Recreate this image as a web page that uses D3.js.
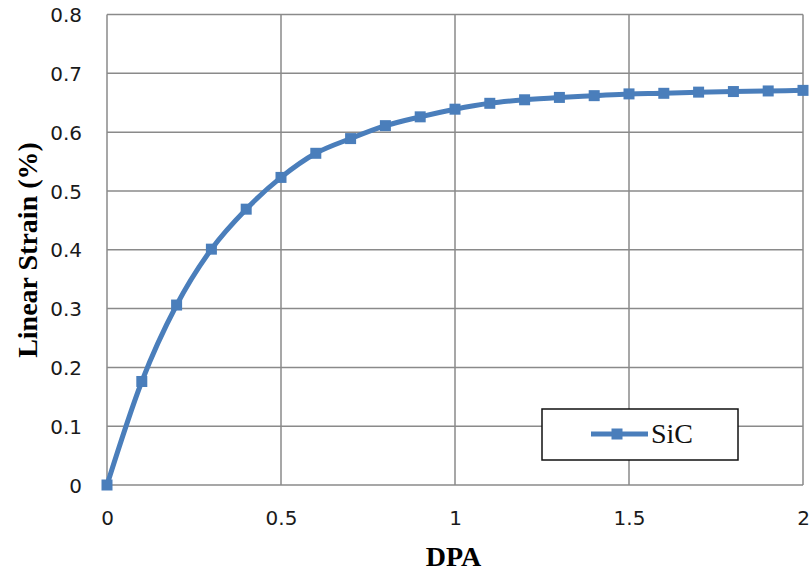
<!DOCTYPE html>
<html><head><meta charset="utf-8">
<script src="https://cdn.jsdelivr.net/npm/d3@7"></script>
<style>html,body{margin:0;padding:0;background:#fff;}</style>
</head><body>
<svg id="chart" width="812" height="576"></svg>
<script>
const dpa = [0,0.1,0.2,0.3,0.4,0.5,0.6,0.7,0.8,0.9,1.0,1.1,1.2,1.3,1.4,1.5,1.6,1.7,1.8,1.9,2.0];
const sicStrain = [0,0.176,0.306,0.401,0.469,0.523,0.564,0.589,0.611,0.626,0.639,0.649,0.655,0.659,0.662,0.665,0.666,0.668,0.669,0.670,0.671];
const xTicks = [0,0.5,1,1.5,2];
const yTicks = [0,0.1,0.2,0.3,0.4,0.5,0.6,0.7,0.8];
const seriesName = "SiC";
const xTitle = "DPA";
const yTitle = "Linear Strain (%)";

const svg = d3.select("#chart");
const L = 107, R = 803, T = 14.5, B = 485;
const x = d3.scaleLinear().domain([0,2]).range([L,R]);
const y = d3.scaleLinear().domain([0,0.8]).range([B,T]);
const blue = "#4A7EBB", grid = "#8a8a8a";

// gridlines
svg.append("g").selectAll("line").data(yTicks).join("line")
  .attr("x1",L).attr("x2",R).attr("y1",d=>y(d)).attr("y2",d=>y(d))
  .attr("stroke",grid).attr("stroke-width",1.5);
svg.append("g").selectAll("line").data(xTicks).join("line")
  .attr("y1",T).attr("y2",B).attr("x1",d=>x(d)).attr("x2",d=>x(d))
  .attr("stroke",grid).attr("stroke-width",1.5);

// axes labels via d3 axes (no domain/ticks lines)
const yAxis = svg.append("g").attr("transform",`translate(${L},0)`)
  .call(d3.axisLeft(y).tickValues(yTicks).tickFormat(d=>d===0?"0":d3.format(".1f")(d)).tickSize(0).tickPadding(25));
yAxis.select(".domain").remove();
yAxis.selectAll("text").attr("font-family","DejaVu Sans, Verdana, sans-serif").attr("font-size",20).attr("fill","#1a1a1a").attr("dy","0.36em");

const xAxis = svg.append("g").attr("transform",`translate(0,${B})`)
  .call(d3.axisBottom(x).tickValues(xTicks).tickFormat(d=>String(d)).tickSize(0).tickPadding(0));
xAxis.select(".domain").remove();
xAxis.selectAll("text").attr("font-family","DejaVu Sans, Verdana, sans-serif").attr("font-size",20).attr("fill","#1a1a1a").attr("dy",null).attr("y",40);

// titles
svg.append("text").attr("x",453.5).attr("y",566).attr("text-anchor","middle")
  .attr("font-family","Liberation Serif, Times New Roman, serif").attr("font-weight","bold").attr("font-size",28).text(xTitle);
svg.append("text").attr("transform","translate(37,250) rotate(-90)").attr("text-anchor","middle")
  .attr("font-family","Liberation Serif, Times New Roman, serif").attr("font-weight","bold").attr("font-size",28).text(yTitle);

// series
const data = dpa.map((d,i)=>({x:d,y:sicStrain[i]}));
const line = d3.line().x(d=>x(d.x)).y(d=>y(d.y)).curve(d3.curveMonotoneX);
svg.append("path").datum(data).attr("d",line).attr("fill","none").attr("stroke",blue).attr("stroke-width",5).attr("stroke-linejoin","round");
const ms = 11;
svg.append("g").selectAll("rect").data(data).join("rect")
  .attr("x",d=>x(d.x)-ms/2).attr("y",d=>y(d.y)-ms/2).attr("width",ms).attr("height",ms).attr("fill",blue);

// legend
const lg = svg.append("g");
lg.append("rect").attr("x",542).attr("y",409).attr("width",196).attr("height",51).attr("fill","#fff").attr("stroke","#111").attr("stroke-width",1.5);
lg.append("line").attr("x1",591).attr("x2",648).attr("y1",434).attr("y2",434).attr("stroke",blue).attr("stroke-width",5);
lg.append("rect").attr("x",617-ms/2).attr("y",434-ms/2).attr("width",ms).attr("height",ms).attr("fill",blue);
lg.append("text").attr("x",651).attr("y",443).attr("font-family","Liberation Serif, Times New Roman, serif").attr("font-size",28).attr("fill","#111").text(seriesName);
</script>
</body></html>
